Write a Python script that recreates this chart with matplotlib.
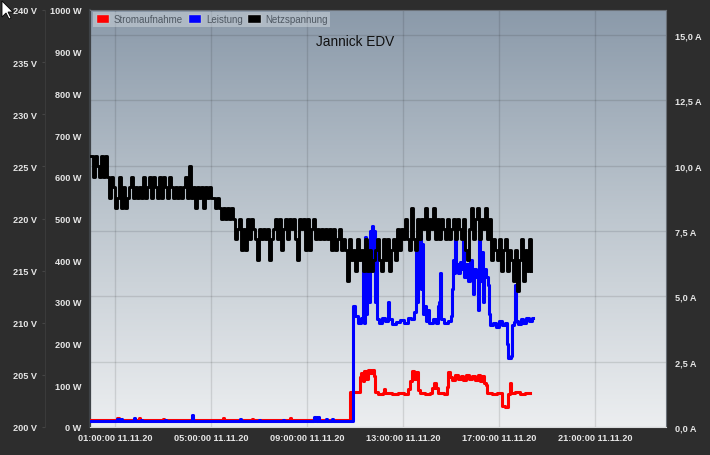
import matplotlib
matplotlib.use("Agg")
import matplotlib.pyplot as plt
import numpy as np
from matplotlib.colors import LinearSegmentedColormap
from matplotlib.patches import Patch, Polygon

plt.rcParams['font.family'] = ['Liberation Sans', 'DejaVu Sans']

# ---------------- data ----------------
title = "Jannick EDV"
series_names = ["Stromaufnahme", "Leistung", "Netzspannung"]
x_tick_hours = [1, 5, 9, 13, 17, 21]
x_tick_labels = ["01:00:00 11.11.20", "05:00:00 11.11.20", "09:00:00 11.11.20",
                 "13:00:00 11.11.20", "17:00:00 11.11.20", "21:00:00 11.11.20"]
w_ticks = [0, 100, 200, 300, 400, 500, 600, 700, 800, 900, 1000]
v_ticks = [200, 205, 210, 215, 220, 225, 230, 235, 240]
a_ticks = [0.0, 2.5, 5.0, 7.5, 10.0, 12.5, 15.0]

# Netzspannung (V), one reading every 5 minutes starting 00:00
volt_start_h = 0.0
volt_step_min = 5
volt_v = [226, 224, 226, 225, 224, 226, 224, 226,
          224, 222, 224, 223, 221, 222, 224, 221, 223, 221, 222, 223, 224, 222, 223, 222, 223, 222,
          224, 222, 223, 224, 222, 224, 223, 222, 224, 222, 224, 223, 222, 224,
          223, 222, 223, 222, 223, 222, 223,
          224, 222, 225, 222,
          223, 221, 223, 222, 223, 221, 223, 222, 223, 222,
          222, 221, 222, 221,
          220, 221, 220, 221, 220, 221,
          220, 218, 219, 220, 217, 219, 217, 220, 218, 220, 219, 218, 216, 219,
          218, 219, 218, 219, 216, 218, 219,
          220, 218, 220, 217, 219, 220, 218, 220, 219, 220, 218, 216, 220, 219,
          220, 217, 220, 217, 219, 220, 218, 219, 218, 219, 218, 219, 218, 219,
          217, 219, 217, 218, 219, 217, 218, 217,
          214, 218, 216, 217, 215, 218, 216,
          217, 215, 218, 215, 217, 215, 216, 217, 218, 216, 215, 218, 216, 218, 215, 217, 218, 216,
          219, 217, 219, 218,
          220, 218, 217, 221, 218, 217, 220, 218, 220, 219, 221, 218, 220, 219, 221, 218,
          220, 218, 220, 219, 218, 220, 218, 219, 220, 218, 220, 219, 218, 220, 217, 216, 219,
          221, 218, 220, 221, 218, 220, 219, 221, 218, 220,
          216, 218, 217, 216, 218,
          215, 217, 218, 215, 217, 216,
          214, 217, 213, 216, 218, 214, 217, 215, 218, 215]

# Leistung (W): time in hours, value
blue_t = [0, 1.1, 1.15, 1.25, 1.3, 1.79, 1.85, 2.08, 2.13, 3.08, 3.13, 4.2, 4.27,
          6.2, 6.25, 7.0, 7.05, 8.0, 8.05, 9.3, 9.36, 9.45, 9.52, 9.8, 9.85, 10.05, 10.1,
          10.917, 11.0, 11.125, 11.25, 11.333, 11.375, 11.417, 11.458, 11.5, 11.542,
          11.625, 11.667, 11.708, 11.75, 11.792, 11.833, 11.875, 11.917, 12.0, 12.125,
          12.25, 12.375, 12.417, 12.542, 12.708, 12.875, 13.042, 13.208, 13.333, 13.458,
          13.542, 13.583, 13.625, 13.667, 13.708, 13.75, 13.792, 13.833, 13.917, 13.958,
          14.042, 14.083, 14.25, 14.375, 14.458, 14.5, 14.542, 14.583, 14.708, 14.875,
          15.0, 15.042, 15.083, 15.125, 15.167, 15.208, 15.292, 15.375, 15.458, 15.5,
          15.542, 15.625, 15.708, 15.792, 15.875, 15.917, 15.958, 16.042, 16.125, 16.167,
          16.208, 16.292, 16.333, 16.375, 16.458, 16.542, 16.583, 16.625, 16.75, 16.875,
          17.0, 17.125, 17.25, 17.333, 17.375, 17.5, 17.542, 17.625, 17.667, 17.708,
          17.792, 17.917, 18.0, 18.125, 18.25, 18.375, 18.417]
blue_w = [14, 18, 14, 18, 14, 21, 14, 17, 14, 17, 14, 28, 14,
          18, 14, 16, 14, 16, 14, 25, 14, 25, 14, 19, 14, 19, 14,
          290, 265, 250, 262, 420, 250, 455, 270, 440, 300,
          470, 400, 482, 380, 470, 300, 440, 260, 250, 262,
          255, 300, 258, 248, 252, 256, 250, 262, 258, 275,
          420, 300, 470, 380, 460, 330, 440, 270, 290, 255,
          280, 250, 258, 250, 290, 300, 370, 260, 250, 255,
          265, 330, 400, 370, 450, 390, 370, 395, 380, 450,
          360, 390, 350, 400, 370, 320, 380, 360, 280, 450,
          350, 420, 300, 380, 360, 340, 270, 245, 250, 240,
          255, 245, 250, 200, 165, 170, 245, 252, 340, 255,
          248, 258, 250, 262, 255, 262, 262]

# Stromaufnahme (A): time in hours, value
red_t = [0, 1.1, 1.15, 2.0, 2.05, 3.0, 3.05, 4.2, 4.27, 5.5, 5.55, 6.7, 6.75,
         8.3, 8.35, 9.3, 9.36, 9.45, 9.52,
         10.792, 11.208, 11.25, 11.333, 11.375, 11.458, 11.542, 11.625, 11.708, 11.792,
         11.833, 11.958, 12.167, 12.208, 12.25, 12.542, 12.792, 13.042, 13.208, 13.292,
         13.375, 13.458, 13.542, 13.625, 13.708, 13.917, 14.125, 14.208, 14.292, 14.375,
         14.458, 14.708, 14.833, 14.875, 14.958, 15.042, 15.167, 15.292, 15.417, 15.5,
         15.625, 15.75, 15.875, 16.0, 16.125, 16.208, 16.292, 16.375, 16.458, 16.5,
         16.708, 16.917, 17.125, 17.25, 17.375, 17.458, 17.5, 17.667, 17.875, 18.083, 18.292]
red_a = [0.27, 0.33, 0.27, 0.33, 0.27, 0.32, 0.27, 0.38, 0.27, 0.33, 0.27, 0.32, 0.27,
         0.33, 0.27, 0.36, 0.27, 0.36, 0.27,
         1.35, 1.9, 2.05, 1.75, 2.15, 1.85, 2.2, 2.05, 2.2, 1.95,
         1.35, 1.28, 1.3, 1.45, 1.3, 1.27, 1.3, 1.27, 1.45, 1.75,
         2.15, 1.85, 2.1, 1.4, 1.3, 1.27, 1.3, 1.5, 1.7, 1.5,
         1.3, 1.28, 1.55, 2.1, 1.9, 1.8, 2.0, 1.85, 1.95, 1.8,
         2.0, 1.85, 1.95, 1.8, 2.0, 1.75, 1.95, 1.7, 1.6, 1.3,
         1.28, 1.3, 0.8, 0.78, 1.27, 1.7, 1.3, 1.33, 1.28, 1.32, 1.3]

# ---------------- figure ----------------
W, H = 710, 456
fig = plt.figure(figsize=(W / 100, H / 100), dpi=100, facecolor='#2d2d2d')
x0, x1, y0, y1 = 90, 666, 11, 428
rect = [x0 / W, 1 - y1 / H, (x1 - x0) / W, (y1 - y0) / H]

ax_a = fig.add_axes(rect)
ax_w = ax_a.twinx()
ax_v = ax_a.twinx()
ax_a.set_zorder(1)
ax_w.set_zorder(2)
ax_v.set_zorder(3)
ax_w.patch.set_visible(False)
ax_v.patch.set_visible(False)

# gradient background
cmap = LinearSegmentedColormap.from_list('bg', ['#8b9aaa', '#bec7cf', '#eceef0'])
grad = np.linspace(0, 1, 256).reshape(-1, 1)
ax_a.imshow(grad, cmap=cmap, extent=[0, 1, 0, 1], transform=ax_a.transAxes,
            aspect='auto', origin='upper', zorder=0)

label_color = '#e6e6e6'
fs = 6.6

# x axis
ax_a.set_xlim(-0.042, 23.958)
ax_a.set_xticks(x_tick_hours)
ax_a.set_xticklabels(x_tick_labels)
ax_a.tick_params(axis='x', length=0, pad=4, labelcolor=label_color, labelsize=fs)

# A axis (right)
ax_a.yaxis.tick_right()
ax_a.yaxis.set_label_position('right')
ax_a.set_ylim(0, 15.96)
ax_a.set_yticks(a_ticks)
ax_a.set_yticklabels([f"{v:.1f}".replace('.', ',') + " A" for v in a_ticks])
ax_a.tick_params(axis='y', length=0, pad=6.5, labelcolor=label_color, labelsize=fs)
ax_a.grid(True, color='#000000', alpha=0.11, lw=1.0)
ax_a.set_axisbelow(True)
for s in ['top', 'right']:
    ax_a.spines[s].set_color('#6a7077')
ax_a.spines['left'].set_color('#3e4246')
ax_a.spines['left'].set_linewidth(1.6)
ax_a.spines['bottom'].set_color('#d8dadc')

# W axis (inner left)
ax_w.yaxis.tick_left()
ax_w.set_ylim(0, 1000)
ax_w.set_yticks(w_ticks)
ax_w.set_yticklabels([f"{v} W" for v in w_ticks])
ax_w.tick_params(axis='y', length=0, pad=6, labelcolor=label_color, labelsize=fs)
for s in ax_w.spines.values():
    s.set_visible(False)

# V axis (outer left)
ax_v.yaxis.tick_left()
ax_v.set_ylim(200, 240)
ax_v.set_yticks(v_ticks)
ax_v.set_yticklabels([f"{v} V" for v in v_ticks])
ax_v.tick_params(axis='y', length=2.5, width=0.8, color='#454545', pad=3,
                 labelcolor=label_color, labelsize=fs)
for s in ['right', 'top', 'bottom']:
    ax_v.spines[s].set_visible(False)
ax_v.spines['left'].set_visible(True)
ax_v.spines['left'].set_position(('outward', 45 * 0.72))
ax_v.spines['left'].set_color('#3a3a3a')
ax_v.spines['left'].set_linewidth(0.8)

for a in (ax_a, ax_w, ax_v):
    for lab in a.get_xticklabels() + a.get_yticklabels():
        lab.set_fontweight('bold')

# series
volt_t = volt_start_h + np.arange(len(volt_v)) * volt_step_min / 60.0
l_red, = ax_a.plot(red_t, red_a, color='#ff0000', lw=2.2, drawstyle='steps-post', zorder=3)
l_blue, = ax_w.plot(blue_t, blue_w, color='#0000ff', lw=2.2, drawstyle='steps-post', zorder=3)
l_black, = ax_v.plot(volt_t, volt_v, color='#000000', lw=2.1, drawstyle='steps-post', zorder=3)

# legend
handles = [Patch(facecolor='#ff0000', edgecolor='#b8c0c8', lw=1.0),
           Patch(facecolor='#0000ff', edgecolor='#b8c0c8', lw=1.0),
           Patch(facecolor='#000000', edgecolor='#b8c0c8', lw=1.0)]
leg = ax_v.legend(handles, series_names, loc='upper left', bbox_to_anchor=(0.006, 0.996),
                  ncol=3, fontsize=7.0, frameon=True, fancybox=False,
                  facecolor='#d8dee3', framealpha=0.45, edgecolor='none',
                  handlelength=1.4, handleheight=1.1, handletextpad=0.45,
                  columnspacing=0.5, borderpad=0.25, borderaxespad=0)
for t in leg.get_texts():
    t.set_color('#4f5862')

fig.text(0.5, 1 - 42 / H, title, ha='center', va='center', fontsize=9.8, color='#111111')

# mouse cursor from the screenshot
cur = np.array([[2, 2], [2, 18], [6, 14], [9, 20], [11, 19], [8, 13], [13, 13]], float)
cur[:, 1] = H - cur[:, 1]
fig.patches.append(Polygon(cur, closed=True, facecolor='white', edgecolor='black',
                           lw=0.6, transform=None, figure=fig))

fig.savefig('out.png', dpi=100, facecolor=fig.get_facecolor())
